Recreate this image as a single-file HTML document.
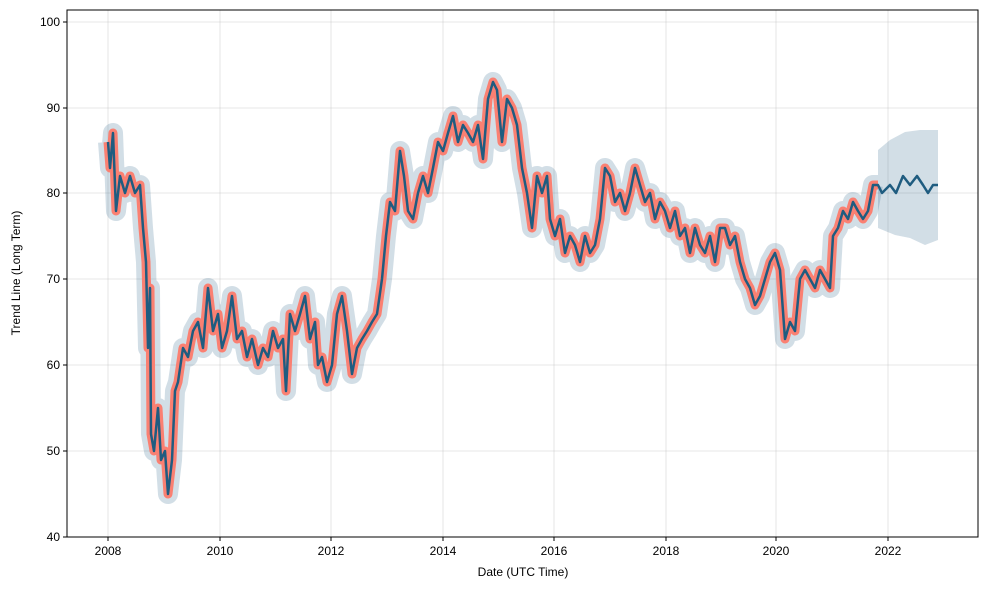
<!DOCTYPE html>
<html><head><meta charset="utf-8"><style>
body{margin:0;background:#fff}
svg{display:block;font-family:"Liberation Sans",sans-serif}
</style></head><body>
<svg width="989" height="590" viewBox="0 0 989 590">
<rect width="989" height="590" fill="#fff"/>
<g stroke="#b0b0b0" stroke-opacity="0.4" stroke-width="0.8">
<line x1="108" y1="10" x2="108" y2="537"/><line x1="220" y1="10" x2="220" y2="537"/><line x1="331" y1="10" x2="331" y2="537"/><line x1="443" y1="10" x2="443" y2="537"/><line x1="554" y1="10" x2="554" y2="537"/><line x1="666" y1="10" x2="666" y2="537"/><line x1="776" y1="10" x2="776" y2="537"/><line x1="888" y1="10" x2="888" y2="537"/>
<line x1="67" y1="22" x2="978" y2="22"/><line x1="67" y1="108" x2="978" y2="108"/><line x1="67" y1="193" x2="978" y2="193"/><line x1="67" y1="279" x2="978" y2="279"/><line x1="67" y1="365" x2="978" y2="365"/><line x1="67" y1="451" x2="978" y2="451"/>
</g>
<polygon points="878,150 890,140 905,132 920,130 938,130 938,240 925,245 910,238 895,235 878,228" fill="#1f5c80" fill-opacity="0.2"/>
<polyline fill="none" stroke="#1f5c80" stroke-opacity="0.2" stroke-width="20" stroke-linejoin="round" points="108,142 110,168 113,133 116,211 120,176 125,193 130,176 135,193 140,185 143,228 146,262 148,348 150,288 151,434 154,451 158,408 161,460 165,451 168,494 172,460 175,391 178,382 183,348 188,357 193,331 198,322 203,348 208,288 213,331 218,314 222,348 227,331 232,296 237,339 242,331 247,357 252,339 258,365 263,348 268,357 273,331 278,348 283,339 286,391 290,314 295,331 300,314 305,296 310,339 315,322 318,365 322,357 327,382 332,365 337,314 342,296 347,331 352,374 357,348 362,339 367,331 372,322 377,314 382,279 386,236 390,202 395,211 400,151 404,176 408,211 413,219 418,193 423,176 428,193 433,168 438,142 443,151 448,133 453,116 458,142 463,125 468,133 473,142 478,125 483,159 488,99 493,82 497,90 502,142 507,99 512,108 517,125 522,168 527,193 532,228 537,176 542,193 547,176 550,219 555,236 560,219 565,253 570,236 575,245 580,262 585,236 590,253 595,245 600,219 605,168 610,176 615,202 620,193 625,211 630,193 635,168 640,185 645,202 650,193 655,219 660,202 665,211 670,228 675,211 680,236 685,228 690,253 695,228 700,245 705,253 710,236 715,262 720,228 725,228 730,245 735,236 740,262 745,279 750,288 755,305 760,296 765,279 770,262 775,253 780,270 785,339 790,322 795,331 800,279 805,270 810,279 815,288 820,270 825,279 830,288 833,236 838,228 843,211 848,219 853,202 858,211 863,219 868,211 873,185 878,185"/>
<polyline fill="none" stroke="#fa8072" stroke-width="9" stroke-linejoin="round" points="108,142 110,168 113,133 116,211 120,176 125,193 130,176 135,193 140,185 143,228 146,262 148,348 150,288 151,434 154,451 158,408 161,460 165,451 168,494 172,460 175,391 178,382 183,348 188,357 193,331 198,322 203,348 208,288 213,331 218,314 222,348 227,331 232,296 237,339 242,331 247,357 252,339 258,365 263,348 268,357 273,331 278,348 283,339 286,391 290,314 295,331 300,314 305,296 310,339 315,322 318,365 322,357 327,382 332,365 337,314 342,296 347,331 352,374 357,348 362,339 367,331 372,322 377,314 382,279 386,236 390,202 395,211 400,151 404,176 408,211 413,219 418,193 423,176 428,193 433,168 438,142 443,151 448,133 453,116 458,142 463,125 468,133 473,142 478,125 483,159 488,99 493,82 497,90 502,142 507,99 512,108 517,125 522,168 527,193 532,228 537,176 542,193 547,176 550,219 555,236 560,219 565,253 570,236 575,245 580,262 585,236 590,253 595,245 600,219 605,168 610,176 615,202 620,193 625,211 630,193 635,168 640,185 645,202 650,193 655,219 660,202 665,211 670,228 675,211 680,236 685,228 690,253 695,228 700,245 705,253 710,236 715,262 720,228 725,228 730,245 735,236 740,262 745,279 750,288 755,305 760,296 765,279 770,262 775,253 780,270 785,339 790,322 795,331 800,279 805,270 810,279 815,288 820,270 825,279 830,288 833,236 838,228 843,211 848,219 853,202 858,211 863,219 868,211 873,185 878,185"/>
<polyline fill="none" stroke="#1f5c80" stroke-width="2.5" stroke-linejoin="round" points="108,142 110,168 113,133 116,211 120,176 125,193 130,176 135,193 140,185 143,228 146,262 148,348 150,288 151,434 154,451 158,408 161,460 165,451 168,494 172,460 175,391 178,382 183,348 188,357 193,331 198,322 203,348 208,288 213,331 218,314 222,348 227,331 232,296 237,339 242,331 247,357 252,339 258,365 263,348 268,357 273,331 278,348 283,339 286,391 290,314 295,331 300,314 305,296 310,339 315,322 318,365 322,357 327,382 332,365 337,314 342,296 347,331 352,374 357,348 362,339 367,331 372,322 377,314 382,279 386,236 390,202 395,211 400,151 404,176 408,211 413,219 418,193 423,176 428,193 433,168 438,142 443,151 448,133 453,116 458,142 463,125 468,133 473,142 478,125 483,159 488,99 493,82 497,90 502,142 507,99 512,108 517,125 522,168 527,193 532,228 537,176 542,193 547,176 550,219 555,236 560,219 565,253 570,236 575,245 580,262 585,236 590,253 595,245 600,219 605,168 610,176 615,202 620,193 625,211 630,193 635,168 640,185 645,202 650,193 655,219 660,202 665,211 670,228 675,211 680,236 685,228 690,253 695,228 700,245 705,253 710,236 715,262 720,228 725,228 730,245 735,236 740,262 745,279 750,288 755,305 760,296 765,279 770,262 775,253 780,270 785,339 790,322 795,331 800,279 805,270 810,279 815,288 820,270 825,279 830,288 833,236 838,228 843,211 848,219 853,202 858,211 863,219 868,211 873,185 878,185 882,193 890,185 896,193 903,176 910,185 917,176 923,185 928,193 933,185 938,185"/>
<rect x="67" y="10" width="911" height="527" fill="none" stroke="#000" stroke-width="1"/>
<g stroke="#000" stroke-width="1">
<line x1="108" y1="537" x2="108" y2="541"/><line x1="220" y1="537" x2="220" y2="541"/><line x1="331" y1="537" x2="331" y2="541"/><line x1="443" y1="537" x2="443" y2="541"/><line x1="554" y1="537" x2="554" y2="541"/><line x1="666" y1="537" x2="666" y2="541"/><line x1="776" y1="537" x2="776" y2="541"/><line x1="888" y1="537" x2="888" y2="541"/>
<line x1="63" y1="22" x2="67" y2="22"/><line x1="63" y1="108" x2="67" y2="108"/><line x1="63" y1="193" x2="67" y2="193"/><line x1="63" y1="279" x2="67" y2="279"/><line x1="63" y1="365" x2="67" y2="365"/><line x1="63" y1="451" x2="67" y2="451"/><line x1="63" y1="537" x2="67" y2="537"/>
</g>
<g font-size="12" fill="#000" text-anchor="middle">
<text x="108" y="555">2008</text><text x="220" y="555">2010</text><text x="331" y="555">2012</text><text x="443" y="555">2014</text><text x="554" y="555">2016</text><text x="666" y="555">2018</text><text x="776" y="555">2020</text><text x="888" y="555">2022</text>
<text x="523" y="576">Date (UTC Time)</text>
</g>
<g font-size="12" fill="#000" text-anchor="end">
<text x="60" y="26">100</text><text x="60" y="112">90</text><text x="60" y="197">80</text><text x="60" y="283">70</text><text x="60" y="369">60</text><text x="60" y="455">50</text><text x="60" y="541">40</text>
</g>
<text x="20" y="273" font-size="12" text-anchor="middle" transform="rotate(-90 20 273)">Trend Line (Long Term)</text>
</svg>
</body></html>
